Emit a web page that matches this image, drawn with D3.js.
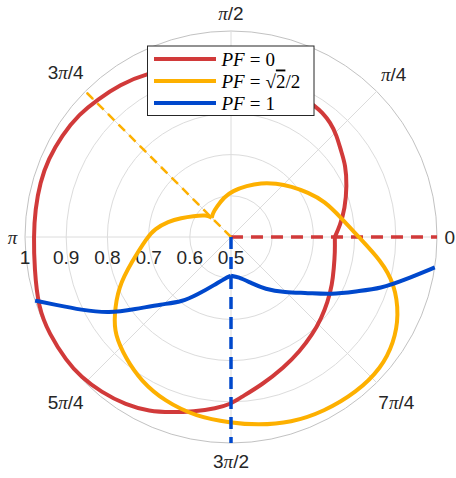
<!DOCTYPE html>
<html>
<head>
<meta charset="utf-8">
<script src="https://cdn.jsdelivr.net/npm/d3@7"></script>
<style>
  body { margin: 0; background: #fff; }
  svg { display: block; }
</style>
</head>
<body>
<div id="chart"></div>
<script>
// angles in degrees (counter-clockwise from 0), radius values in [0.5, 1]
const redTheta = [0, 6, 14, 24, 32, 38, 44, 49, 54, 57, 65, 75, 90, 105, 118, 126, 134, 141, 149, 157, 164, 172, 180, 189, 200, 208, 217, 223, 230, 238, 245, 251, 258, 265, 270, 273, 282, 292, 301, 310, 318, 326, 335, 343, 352, 360];
const redR     = [0.752, 0.766, 0.785, 0.808, 0.828, 0.839, 0.856, 0.868, 0.875, 0.877, 0.885, 0.895, 0.91, 0.93, 0.948, 0.957, 0.965, 0.974, 0.979, 0.982, 0.982, 0.980, 0.979, 0.983, 0.998, 1.0, 1.0, 0.998, 0.991, 0.981, 0.967, 0.950, 0.933, 0.918, 0.905, 0.892, 0.866, 0.842, 0.824, 0.808, 0.795, 0.783, 0.771, 0.761, 0.755, 0.752];

const yellowTheta = [135, 138, 151, 159, 166, 174, 180, 194, 204, 214, 220, 229, 238, 248, 259, 270, 278, 288, 298, 309, 319, 327, 335, 344, 351, 360, 370, 381, 390, 400, 410, 421, 433, 448, 460, 475, 487, 495];
const yellowR     = [0.566, 0.580, 0.605, 0.629, 0.657, 0.686, 0.703, 0.748, 0.800, 0.842, 0.868, 0.890, 0.912, 0.930, 0.944, 0.951, 0.961, 0.974, 0.980, 0.985, 0.984, 0.971, 0.950, 0.913, 0.869, 0.810, 0.771, 0.743, 0.716, 0.691, 0.670, 0.650, 0.630, 0.612, 0.598, 0.581, 0.573, 0.566];

const blueTheta = [198, 201, 206, 212, 217, 224, 233, 240, 251, 262, 270, 280, 294, 303, 314, 324, 330, 337, 341, 346, 351.5];
const blueR     = [1.0, 0.958, 0.904, 0.849, 0.791, 0.735, 0.697, 0.661, 0.623, 0.601, 0.594, 0.598, 0.623, 0.651, 0.687, 0.731, 0.780, 0.836, 0.884, 0.933, 1.0];

const seriesNames = ["0", "√2/2", "1"];
const seriesColors = ["#d13a3a", "#fdb000", "#0048cc"];
const seriesKinks = [null, null, 270];      // cusp angle, drawn as a corner
const phasorAngles = [0, 135, 270];          // dashed reference lines

const thetaTicks = [0, 45, 90, 135, 180, 225, 270, 315];
const thetaLabels = ["0", "π/4", "π/2", "3π/4", "π", "5π/4", "3π/2", "7π/4"];
const rTicks = [0.5, 0.6, 0.7, 0.8, 0.9, 1.0];
const rLabels = ["0.5", "0.6", "0.7", "0.8", "0.9", "1"];

const width = 456, height = 478;
const cx = 231, cy = 237, R = 206;

const svg = d3.select("#chart").append("svg")
  .attr("width", width).attr("height", height);

const r = d3.scaleLinear().domain([0.5, 1]).range([0, R]);
const rad = d => d * Math.PI / 180;
const px = (t, v) => cx + r(v) * Math.cos(rad(t));
const py = (t, v) => cy - r(v) * Math.sin(rad(t));

const g = svg.append("g");

// grid rings
g.selectAll(".ring").data(rTicks.slice(1)).enter().append("circle")
  .attr("cx", cx).attr("cy", cy).attr("r", d => r(d))
  .attr("fill", "none")
  .attr("stroke", d => d === 1 ? "#c2c2c2" : "#dcdcdc")
  .attr("stroke-width", 1);

// spokes
g.selectAll(".spoke").data(thetaTicks).enter().append("line")
  .attr("x1", cx).attr("y1", cy)
  .attr("x2", d => px(d, 1)).attr("y2", d => py(d, 1))
  .attr("stroke", "#dcdcdc").attr("stroke-width", 1);

// theta labels
function addLabel(sel, str) {
  str.split(/(π)/).forEach(part => {
    if (!part) return;
    const ts = sel.append("tspan").text(part);
    if (part === "π") ts.attr("font-family", "Liberation Serif").attr("font-style", "italic");
  });
}
thetaTicks.forEach((t, i) => {
  const txt = g.append("text")
    .attr("font-family", "Liberation Sans, Arial, sans-serif")
    .attr("font-size", 19).attr("fill", "#262626")
    .attr("text-anchor", "middle").attr("dominant-baseline", "central");
  addLabel(txt, thetaLabels[i]);
  const bb = txt.node().getBBox();
  const c = Math.abs(Math.cos(rad(t))), s = Math.abs(Math.sin(rad(t)));
  const off = R + 7.5 + c * bb.width / 2 + s * bb.height / 2;
  txt.attr("x", cx + off * Math.cos(rad(t))).attr("y", cy - off * Math.sin(rad(t)));
});

// radial labels along pi direction
g.selectAll(".rlab").data(rTicks).enter().append("text")
  .attr("x", d => px(180, d)).attr("y", cy + 27)
  .attr("text-anchor", "middle")
  .attr("font-family", "Liberation Sans, Arial, sans-serif")
  .attr("font-size", 19).attr("fill", "#262626")
  .text((d, i) => rLabels[i]);

const line = d3.line()
  .x(d => px(d[0], d[1])).y(d => py(d[0], d[1]))
  .curve(d3.curveBasis);

const series = [[redTheta, redR], [yellowTheta, yellowR], [blueTheta, blueR]];
series.forEach((s, i) => {
  const pts = s[0].map((t, j) => [t, s[1][j]]);
  let parts = [pts];
  if (seriesKinks[i] !== null) {
    const k = s[0].indexOf(seriesKinks[i]);
    parts = [pts.slice(0, k + 1), pts.slice(k)];
  }
  parts.forEach(p => {
    g.append("path").attr("d", line(p))
      .attr("fill", "none").attr("stroke", seriesColors[i])
      .attr("stroke-width", 4).attr("stroke-linejoin", "round");
  });
  // dashed phasor line
  g.append("line")
    .attr("x1", cx).attr("y1", cy)
    .attr("x2", px(phasorAngles[i], 1)).attr("y2", py(phasorAngles[i], 1))
    .attr("stroke", seriesColors[i])
    .attr("stroke-width", i === 1 ? 2.5 : 3.5)
    .attr("stroke-dasharray", i === 1 ? "9,6" : "12,8");
});

// legend
const lg = svg.append("g").attr("transform", "translate(147.5,46)");
lg.append("rect").attr("width", 166.5).attr("height", 69.5)
  .attr("fill", "#fff").attr("stroke", "#262626").attr("stroke-width", 1);
seriesNames.forEach((name, i) => {
  const y = 13 + i * 22;
  lg.append("line").attr("x1", 6.5).attr("x2", 68.5).attr("y1", y).attr("y2", y)
    .attr("stroke", seriesColors[i]).attr("stroke-width", 4);
  const t = lg.append("text").attr("x", 74).attr("y", y + 6.5)
    .attr("font-family", "Liberation Serif, Times New Roman, serif")
    .attr("font-size", 19).attr("fill", "#000");
  t.append("tspan").attr("font-style", "italic").text("PF");
  t.append("tspan").attr("dx", 5).text("=");
  if (name.includes("√")) {
    t.append("tspan").attr("dx", 5).text("√");
    t.append("tspan").attr("text-decoration", "overline").text("2");
    t.append("tspan").text("/2");
  } else {
    t.append("tspan").attr("dx", 5).text(name);
  }
});
</script>
</body>
</html>
